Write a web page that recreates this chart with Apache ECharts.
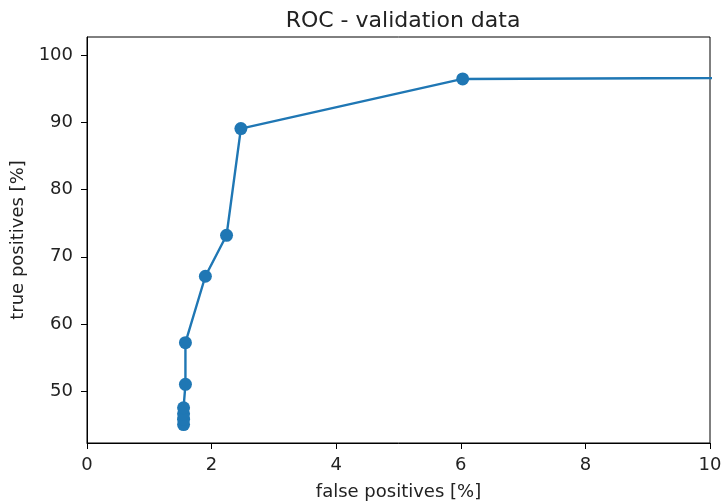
<!DOCTYPE html>
<html>
<head>
<meta charset="utf-8">
<script src="https://cdn.jsdelivr.net/npm/echarts@6/dist/echarts.min.js"></script>
<style>html,body{margin:0;padding:0;background:#fff}#c{width:722px;height:502px}</style>
</head>
<body>
<div id="c"></div>
<script>
var falsePositives = [1.55, 1.55, 1.55, 1.55, 1.58, 1.58, 1.90, 2.24, 2.47, 6.03, 100];
var truePositives  = [45.0, 45.8, 46.6, 47.5, 51.0, 57.2, 67.1, 73.2, 89.1, 96.5, 100];
var xTicks = [0, 2, 4, 6, 8, 10];
var yTicks = [50, 60, 70, 80, 90, 100];

var data = falsePositives.map(function (x, i) { return [x, truePositives[i]]; });
var chart = echarts.init(document.getElementById('c'), null, {renderer: 'canvas'});
var font = 'DejaVu Sans';
var txt = '#222';
chart.setOption({
  animation: false,
  title: {
    text: 'ROC - validation data', left: 398, top: 5, textAlign: 'center',
    textStyle: {fontFamily: font, fontSize: 22, fontWeight: 'normal', color: txt}
  },
  grid: {left: 87, right: 12, top: 37, bottom: 59, containLabel: false, outerBoundsMode: 'none',
         show: true, borderColor: '#000', borderWidth: 1, backgroundColor: 'transparent'},
  xAxis: {
    type: 'value', min: 0, max: 10,
    name: 'false positives [%]', nameLocation: 'middle', nameGap: 40,
    nameTextStyle: {fontFamily: font, fontSize: 18, color: txt},
    axisLine: {show: true, lineStyle: {color: '#000', width: 1}},
    axisTick: {show: true, length: 6, lineStyle: {color: '#000'}, customValues: xTicks},
    axisLabel: {fontFamily: font, fontSize: 18, color: txt, margin: 13, customValues: xTicks},
    splitLine: {show: false}
  },
  yAxis: {
    type: 'value', min: 42.25, max: 102.75,
    name: 'true positives [%]', nameLocation: 'middle', nameGap: 59,
    nameTextStyle: {fontFamily: font, fontSize: 18, color: txt},
    axisLine: {show: true, lineStyle: {color: '#000', width: 1}},
    axisTick: {show: true, length: 6, lineStyle: {color: '#000'}, customValues: yTicks},
    axisLabel: {fontFamily: font, fontSize: 18, color: txt, margin: 14, customValues: yTicks},
    splitLine: {show: false}
  },
  series: [{
    type: 'line', data: data, clip: true,
    symbol: 'circle', symbolSize: 13, showAllSymbol: true,
    lineStyle: {color: '#1f77b4', width: 2.4},
    itemStyle: {color: '#1f77b4'}
  }]
});
</script>
</body>
</html>
